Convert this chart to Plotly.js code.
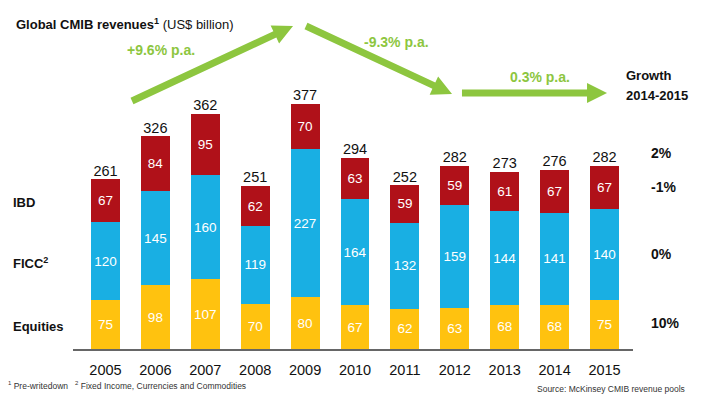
<!DOCTYPE html>
<html>
<head>
<meta charset="utf-8">
<script src="https://cdn.plot.ly/plotly-3.0.1.min.js"></script>
<style>html,body{margin:0;padding:0;background:#fff}#chart{width:705px;height:398px}</style>
</head>
<body>
<div id="chart"></div>
<script>
const years = ["2005","2006","2007","2008","2009","2010","2011","2012","2013","2014","2015"];
const equities = [75, 98, 107, 70, 80, 67, 62, 63, 68, 68, 75];
const ficc = [120, 145, 160, 119, 227, 164, 132, 159, 144, 141, 140];
const ibd = [67, 84, 95, 62, 70, 63, 59, 59, 61, 67, 67];
const totals = [261, 326, 362, 251, 377, 294, 252, 282, 273, 276, 282];
const segmentNames = ["IBD", "FICC<sup>2</sup>", "Equities"];
const growth = ["2%", "-1%", "0%", "10%"];
const trendLabels = ["+9.6% p.a.", "-9.3% p.a.", "0.3% p.a."];

const FONT = "'Liberation Sans Narrow', 'Arial Narrow', 'Liberation Sans', Arial, sans-serif";
const RED = "#B01119", BLUE = "#19AFE3", YELLOW = "#FFC20F", GREEN = "#8DC63F";

// plot geometry in pixels
const L = 73, R = 633, T = 40, B = 349;
const W = R - L, H = B - T;
function px(x){ return (x - L) / W; }
function py(y){ return (B - y) / H; }

function arrowPath(x1, y1, x2, y2, w, hl, hw){
  const dx = x2 - x1, dy = y2 - y1, len = Math.hypot(dx, dy);
  const ux = dx/len, uy = dy/len, nx = -uy, ny = ux;
  const bx = x2 - ux*hl, by = y2 - uy*hl;
  const pts = [
    [x1 + nx*w/2, y1 + ny*w/2],
    [bx + nx*w/2, by + ny*w/2],
    [bx + nx*hw/2, by + ny*hw/2],
    [x2, y2],
    [bx - nx*hw/2, by - ny*hw/2],
    [bx - nx*w/2, by - ny*w/2],
    [x1 - nx*w/2, y1 - ny*w/2]
  ];
  return "M " + pts.map(p => px(p[0]).toFixed(4) + "," + py(p[1]).toFixed(4)).join(" L ") + " Z";
}

const barCommon = {
  type: "bar", x: years, textposition: "inside", insidetextanchor: "middle", textangle: 0,
  textfont: {color: "#fff", size: 13.5, family: FONT}, hoverinfo: "skip", constraintext: "none"
};
const traces = [
  Object.assign({}, barCommon, {y: equities, text: equities.map(String), marker: {color: YELLOW}, name: "Equities"}),
  Object.assign({}, barCommon, {y: ficc, text: ficc.map(String), marker: {color: BLUE}, name: "FICC"}),
  Object.assign({}, barCommon, {y: ibd, text: ibd.map(String), marker: {color: RED}, name: "IBD"}),
  {type: "scatter", mode: "text", x: years, y: totals, text: totals.map(String),
   textposition: "top center", textfont: {color: "#111", size: 14.5, family: FONT}, hoverinfo: "skip", showlegend: false, cliponaxis: false}
];

const ann = [];
const tb = (text, x, y, opts) => ann.push(Object.assign({xref: "paper", yref: "paper", x: px(x), y: py(y), text: text,
  showarrow: false, font: {family: FONT, size: 14, color: "#111"}, xanchor: "left", yanchor: "middle"}, opts || {}));

tb("<b>Global CMIB revenues<sup>1</sup></b> (US$ billion)", 14, 24, {font: {family: FONT, size: 13, color: "#111"}});
tb("<b>" + trendLabels[0] + "</b>", 161, 50, {xanchor: "center", font: {family: FONT, size: 14, color: GREEN}});
tb("<b>" + trendLabels[1] + "</b>", 396, 42, {xanchor: "center", font: {family: FONT, size: 14, color: GREEN}});
tb("<b>" + trendLabels[2] + "</b>", 540, 77, {xanchor: "center", font: {family: FONT, size: 14, color: GREEN}});
tb("<b>Growth</b>", 624, 76, {font: {family: FONT, size: 13, color: "#111"}});
tb("<b>2014-2015</b>", 624, 96, {font: {family: FONT, size: 13, color: "#111"}});
const rightY = [153, 187, 254, 323];
growth.forEach((g, i) => tb("<b>" + g + "</b>", 649, rightY[i]));
const leftY = [202, 263, 326];
segmentNames.forEach((s, i) => tb("<b>" + s + "</b>", 11, leftY[i], {font: {family: FONT, size: 13, color: "#111"}}));
tb("<sup>1</sup> Pre-writedown   <sup>2</sup> Fixed Income, Currencies and Commodities", 6, 385, {font: {family: FONT, size: 8.5, color: "#333"}});
tb("Source: McKinsey CMIB revenue pools", 687, 389, {xanchor: "right", font: {family: FONT, size: 8.5, color: "#333"}});

const shapes = [
  {type: "path", xref: "paper", yref: "paper", path: arrowPath(132, 101, 293, 26, 7, 20, 20), fillcolor: GREEN, line: {width: 0}},
  {type: "path", xref: "paper", yref: "paper", path: arrowPath(306, 26, 452, 94, 7, 20, 20), fillcolor: GREEN, line: {width: 0}},
  {type: "path", xref: "paper", yref: "paper", path: arrowPath(462, 93, 607, 93, 7, 20, 20), fillcolor: GREEN, line: {width: 0}}
];

const layout = {
  width: 705, height: 398,
  margin: {l: L, r: 705 - R, t: T, b: 398 - B},
  paper_bgcolor: "#fff", plot_bgcolor: "#fff",
  barmode: "stack", bargap: 0.42, showlegend: false,
  font: {family: FONT},
  xaxis: {type: "category", range: [-0.651, 10.571], showline: true, linecolor: "#666", linewidth: 2,
          ticks: "", tickfont: {size: 14.5, color: "#111", family: FONT}, fixedrange: true, showgrid: false, ticklabelstandoff: 7},
  yaxis: {range: [0, 475.4], visible: false, showgrid: false, zeroline: false, fixedrange: true},
  annotations: ann, shapes: shapes
};

Plotly.newPlot("chart", traces, layout, {displayModeBar: false, staticPlot: true});
</script>
</body>
</html>
